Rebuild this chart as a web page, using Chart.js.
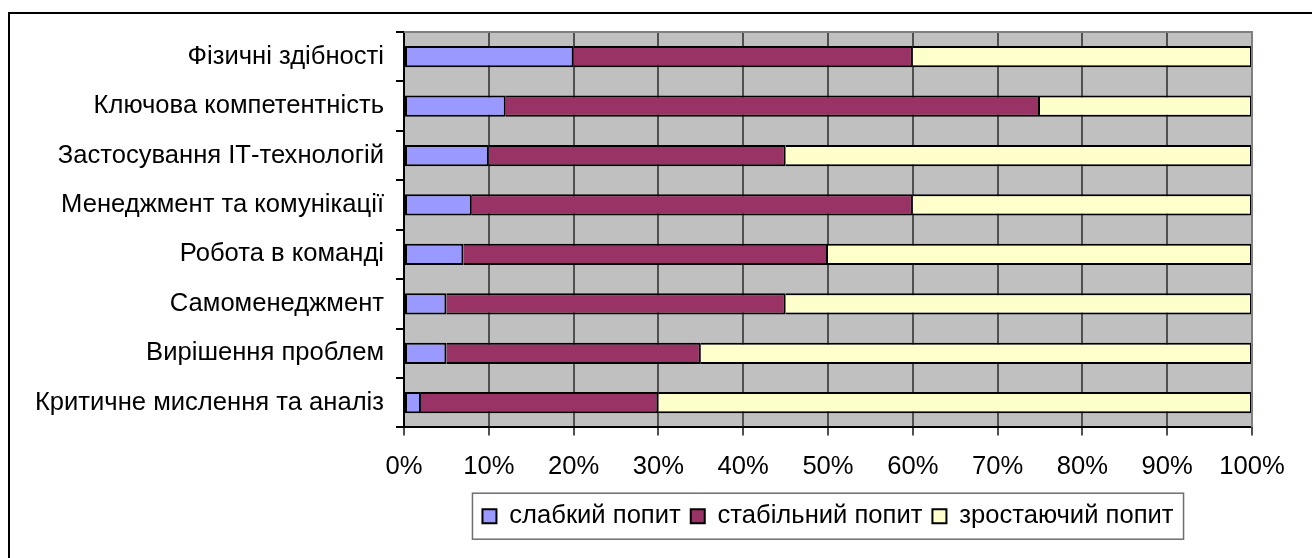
<!DOCTYPE html>
<html>
<head>
<meta charset="utf-8">
<script src="https://cdn.jsdelivr.net/npm/chart.js@4"></script>
<style>
  body { margin: 0; background: #fff; }
</style>
</head>
<body>
<canvas id="chart" width="1312" height="558"></canvas>
<script>
const categories = [
  "Фізичні здібності",
  "Ключова компетентність",
  "Застосування ІТ-технологій",
  "Менеджмент та комунікації",
  "Робота в команді",
  "Самоменеджмент",
  "Вирішення проблем",
  "Критичне мислення та аналіз"
];
const weakDemand = [20, 12, 10, 8, 7, 5, 5, 2];
const stableDemand = [40, 63, 35, 52, 43, 40, 30, 28];
const growingDemand = [40, 25, 55, 40, 50, 55, 65, 70];
const seriesNames = ["слабкий попит", "стабільний попит", "зростаючий попит"];

Chart.defaults.font.family = "'Liberation Sans', Arial, sans-serif";
Chart.defaults.font.size = 25.6;
Chart.defaults.color = "#000";

// gray plot background, outer frame, legend frame
const framePlugin = {
  id: "frames",
  beforeDraw(chart) {
    const ctx = chart.ctx;
    const a = chart.chartArea;
    ctx.save();
    ctx.fillStyle = "#fff";
    ctx.fillRect(0, 0, chart.width, chart.height);
    ctx.strokeStyle = "#000";
    ctx.lineWidth = 2;
    ctx.strokeRect(9, 13, 2000, 2000);
    ctx.fillStyle = "#c0c0c0";
    ctx.fillRect(a.left, a.top, a.right - a.left, a.bottom - a.top);
    ctx.restore();
  },
  afterDraw(chart) {
    const ctx = chart.ctx;
    const a = chart.chartArea;
    const lg = chart.legend;
    ctx.save();
    // top / right edge of plot area
    ctx.strokeStyle = "#808080";
    ctx.lineWidth = 2;
    ctx.beginPath();
    ctx.moveTo(a.left, a.top);
    ctx.lineTo(a.right, a.top);
    ctx.lineTo(a.right, a.bottom);
    ctx.stroke();
    // legend border
    const boxes = lg.legendHitBoxes;
    let l = Infinity, r = -Infinity;
    boxes.forEach(b => { l = Math.min(l, b.left); r = Math.max(r, b.left + b.width); });
    const cy = boxes[0].top + boxes[0].height / 2;
    ctx.strokeStyle = "#6e6e6e";
    ctx.lineWidth = 1.5;
    ctx.strokeRect(l - 10, cy - 23, r - l + 20, 46);
    ctx.restore();
  }
};

new Chart(document.getElementById("chart"), {
  type: "bar",
  data: {
    labels: categories,
    datasets: [
      { label: seriesNames[0], data: weakDemand, backgroundColor: "#9999ff", borderColor: "#000", borderWidth: 2, borderSkipped: false },
      { label: seriesNames[1], data: stableDemand, backgroundColor: "#993366", borderColor: "#000", borderWidth: 2, borderSkipped: "start" },
      { label: seriesNames[2], data: growingDemand, backgroundColor: "#ffffcc", borderColor: "#000", borderWidth: 2, borderSkipped: "start" }
    ]
  },
  options: {
    responsive: false,
    animation: false,
    indexAxis: "y",
    barPercentage: 0.43,
    categoryPercentage: 1,
    layout: { padding: { top: 32, right: 60, bottom: 19, left: 0 } },
    plugins: {
      tooltip: { enabled: false },
      legend: {
        position: "bottom",
        fullSize: false,
        labels: { boxWidth: 14, boxHeight: 14, padding: 10 }
      }
    },
    scales: {
      x: {
        stacked: true,
        min: 0,
        max: 100,
        afterFit(scale) { scale.height = 66; },
        ticks: { stepSize: 10, padding: 16, callback: v => v + "%" },
        grid: { color: "#505050", lineWidth: 2, tickLength: 8, tickColor: "#505050" },
        border: { color: "#000", width: 2 }
      },
      y: {
        stacked: true,
        afterFit(scale) { scale.width = 404; },
        ticks: { padding: 12 },
        grid: { drawOnChartArea: false, tickLength: 8, tickColor: "#000", lineWidth: 2 },
        border: { color: "#000", width: 2 }
      }
    }
  },
  plugins: [framePlugin]
});
</script>
</body>
</html>
